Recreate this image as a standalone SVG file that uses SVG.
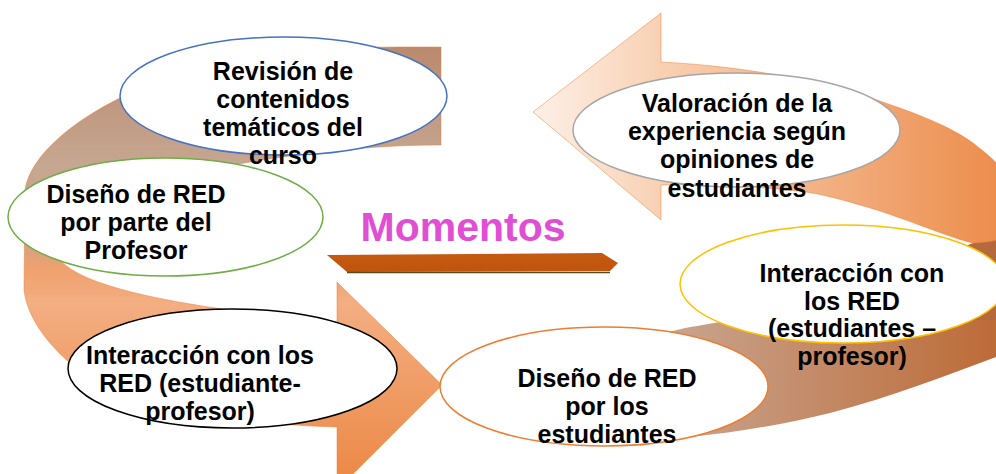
<svg xmlns="http://www.w3.org/2000/svg" width="996" height="474" viewBox="0 0 996 474">
<defs>
<linearGradient id="gL" gradientUnits="userSpaceOnUse" x1="0" y1="47" x2="0" y2="474">
<stop offset="0" stop-color="#bb8a6d"/>
<stop offset="0.28" stop-color="#c6a792"/>
<stop offset="0.44" stop-color="#cba38a"/>
<stop offset="0.52" stop-color="#efa16e"/>
<stop offset="0.6" stop-color="#f3ae82"/>
<stop offset="1" stop-color="#ec8a48"/>
</linearGradient>
<linearGradient id="gA" gradientUnits="userSpaceOnUse" x1="533" y1="0" x2="1000" y2="0">
<stop offset="0" stop-color="#fdf0e8"/>
<stop offset="0.28" stop-color="#f8d0b2"/>
<stop offset="0.6" stop-color="#f3b286"/>
<stop offset="1" stop-color="#ec8d4c"/>
</linearGradient>
<linearGradient id="gB" gradientUnits="userSpaceOnUse" x1="650" y1="0" x2="1000" y2="0">
<stop offset="0" stop-color="#c9a895"/>
<stop offset="1" stop-color="#bd6a36"/>
</linearGradient>
<linearGradient id="gBar" x1="0" y1="0" x2="0" y2="1">
<stop offset="0" stop-color="#c65a12"/>
<stop offset="1" stop-color="#bf540d"/>
</linearGradient>
</defs>
<style>
.arrow{stroke:#ed7d31;stroke-width:0.8;stroke-opacity:0.6}
.node ellipse{fill:#ffffff;stroke-width:1.5}
.node text{font-family:"Liberation Sans",Arial,sans-serif;font-weight:bold;font-size:25px;fill:#000000;text-anchor:middle}
.title{font-family:"Liberation Sans",Arial,sans-serif;font-weight:bold;font-size:41px;fill:#e04fd3;text-anchor:middle}
</style>
<rect width="996" height="474" fill="#ffffff"/>
<g id="connectors">
<path id="arrow-left" class="arrow" fill="url(#gL)" d="M441,47 L400,47 C 280,47 175,70 120,98 C 75,120 30,155 25,190 L 24,290 C 28,325 60,360 100,385 C 170,415 260,425 337,427 L337,490 L442,385 L337,282 L337,322 C 150,305 52,280 55,245 C 60,190 280,145 441,145 Z"/>
<path id="arrow-right-lower" fill="url(#gB)" d="M640,340 C 660,333 690,326 735,320 L 900,300 L1010,290 L1010,352 C 960,370 900,395 830,413 C 790,423 740,432 690,437 C 670,440 655,443 640,446 Z"/>
<path id="arrow-right-fold" fill="#b46a3e" d="M968,245 L1010,228 L1010,320 L950,320 Z"/>
<path id="arrow-right-upper" class="arrow" fill="url(#gA)" d="M533,112 L661,13 L661,62 C 740,66 820,80 877,100 C 915,113 950,126 973,143 C 990,156 1000,165 1010,180 L1010,236 C 1000,240 985,243 973,243 C 950,238 910,220 867,207 C 840,199 820,194 806,192 C 760,186 700,184 661,185 L661,220 Z"/>
</g>
<g id="title">
<path d="M327,255 L602,253 L618,263 L610,271 L347,272 Z" fill="url(#gBar)"/>
<line x1="347" y1="272.5" x2="610" y2="272.5" stroke="#5d4a1c" stroke-width="1.5"/>
<text class="title" x="463" y="241">Momentos</text>
</g>
<g id="node-revision" class="node">
<ellipse cx="283.5" cy="96" rx="163.5" ry="59" stroke="#4472c4"/>
<text x="283" y="80">Revisión de</text>
<text x="283" y="108">contenidos</text>
<text x="283" y="136">temáticos del</text>
<text x="283" y="164">curso</text>
</g>
<g id="node-diseno-profesor" class="node">
<ellipse cx="165.5" cy="217" rx="157.5" ry="59" stroke="#70ad47"/>
<text x="136" y="203">Diseño de RED</text>
<text x="136" y="231">por parte del</text>
<text x="136" y="259">Profesor</text>
</g>
<g id="node-interaccion-1" class="node">
<ellipse cx="232.5" cy="368.5" rx="164.5" ry="59.5" stroke="#000000"/>
<text x="200" y="364">Interacción con los</text>
<text x="200" y="392">RED (estudiante-</text>
<text x="200" y="420">profesor)</text>
</g>
<g id="node-diseno-estudiantes" class="node">
<ellipse cx="604" cy="386.5" rx="164" ry="59.5" stroke="#ed7d31"/>
<text x="607" y="387">Diseño de RED</text>
<text x="607" y="415">por los</text>
<text x="607" y="443">estudiantes</text>
</g>
<g id="node-interaccion-2" class="node">
<ellipse cx="843" cy="284" rx="163" ry="59" stroke="#ffc000"/>
<text x="852" y="282">Interacción con</text>
<text x="852" y="310">los RED</text>
<text x="852" y="337">(estudiantes –</text>
<text x="852" y="365">profesor)</text>
</g>
<g id="node-valoracion" class="node">
<ellipse cx="736.5" cy="130" rx="163.5" ry="57" stroke="#a6a6a6"/>
<text x="737" y="112">Valoración de la</text>
<text x="737" y="140">experiencia según</text>
<text x="737" y="168">opiniones de</text>
<text x="737" y="197">estudiantes</text>
</g>
</svg>
